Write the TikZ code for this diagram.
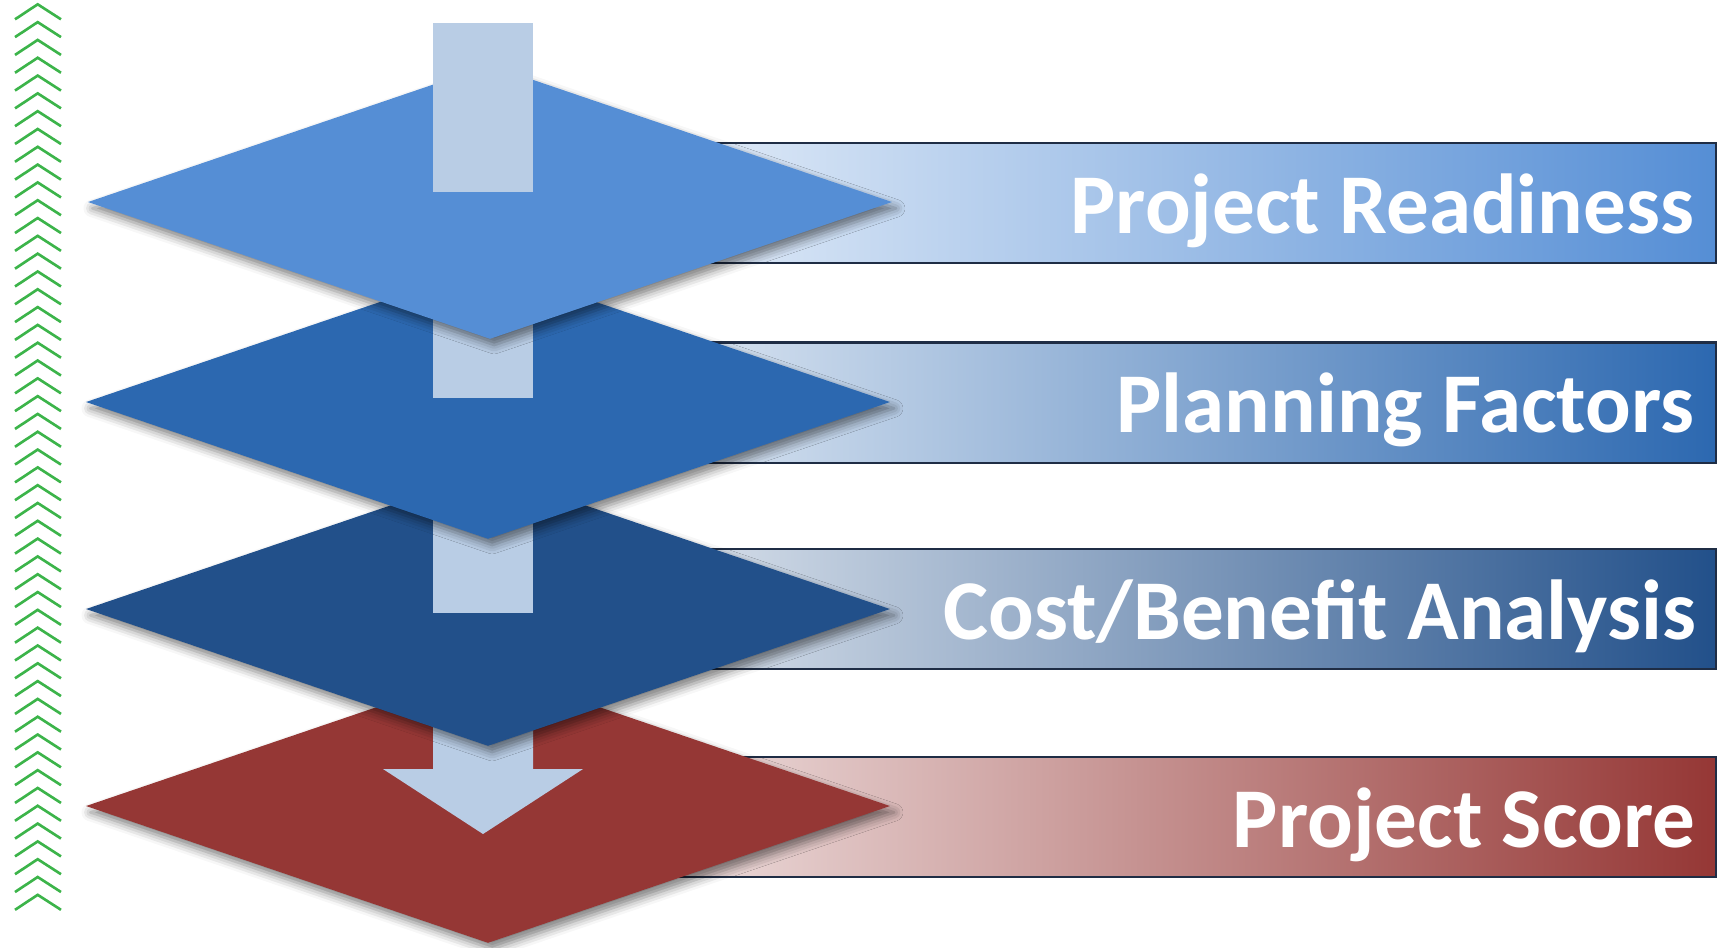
\documentclass[tikz,border=0pt]{standalone}
\usepackage{fontspec}
\setmainfont{Carlito}
\usetikzlibrary{shapes.geometric,shadows.blur}

\definecolor{tierA}{HTML}{558ED5}
\definecolor{tierB}{HTML}{2C68B0}
\definecolor{tierC}{HTML}{22508A}
\definecolor{tierD}{HTML}{953735}
\definecolor{flow}{HTML}{B9CDE5}
\definecolor{rim}{HTML}{1F2D45}
\definecolor{chev}{HTML}{3CB44A}

\tikzset{
    tier/.style={diamond, minimum width=8.04cm, minimum height=2.74cm, inner sep=0pt, fill=#1,
        blur shadow={shadow xshift=1.2pt, shadow yshift=-1.8pt, shadow blur radius=2.5pt, shadow opacity=50}},
    tierbar/.style={rectangle, minimum width=10.76cm, minimum height=1.2cm, inner sep=0pt,
        draw=rim, line width=0.6pt, left color=#1!15!white, right color=#1},
    tiertext/.style={anchor=base east, inner sep=0pt, text=white, font=\bfseries\fontsize{24.2}{29}\selectfont},
}

\begin{document}
\begin{tikzpicture}[x=0.01cm, y=-0.01cm]

        \useasboundingbox (0,0) rectangle (1724,947);

        % green chevrons on the left
        \foreach \k in {0,...,50}
            \draw[chev, line width=0.75pt] (15,{19.3+17.81*\k}) -- (37.7,{4.3+17.81*\k}) -- (61,{19.3+17.81*\k});

        \begin{scope}
            \node[tierbar=tierA] (barA) at (1178,203) {};
            \node[tierbar=tierB] (barB) at (1178,402.5) {};
            \node[tierbar=tierC] (barC) at (1178,609) {};
            \node[tierbar=tierD] (barD) at (1178,817) {};
        \end{scope}

        \begin{scope}[every node/.style={tiertext}]
            \node (txtA) at (1695,233) {Project Readiness};
            \node (txtB) at (1695,432) {Planning Factors};
            \node (txtC) at (1697,639) {Cost/Benefit Analysis};
            \node (txtD) at (1696,847) {Project Score};
        \end{scope}

        % tiers from the bottom up, each with its piece of the arrow
        \node[tier=tierD] (tierD) at (488,806) {};
        \fill[flow] (433,600) -- (433,769) -- (383,769) -- (483,834) -- (583,769) -- (533,769) -- (533,600) -- cycle;
        \node[tier=tierC] (tierC) at (488,609) {};
        \fill[flow] (433,400) rectangle (533,613);
        \node[tier=tierB] (tierB) at (488,402) {};
        \fill[flow] (433,200) rectangle (533,398);
        \node[tier=tierA] (tierA) at (490,202) {};
        \fill[flow] (433,23) rectangle (533,192);

    \end{tikzpicture}
\end{document}
